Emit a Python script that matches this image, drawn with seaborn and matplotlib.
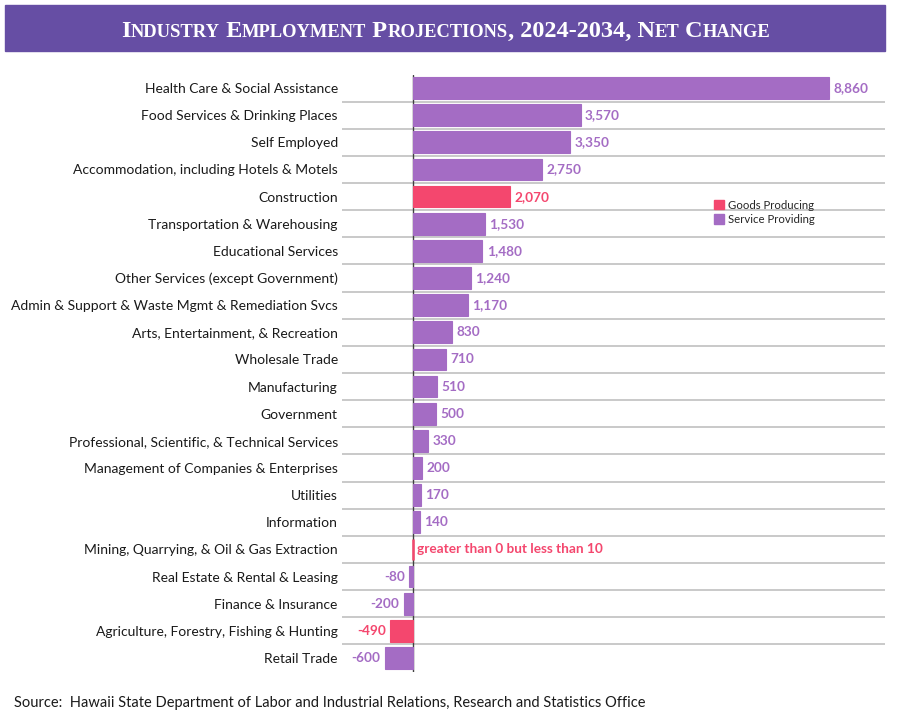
import pandas as pd
import matplotlib.pyplot as plt
import matplotlib.patches as mpatches
import seaborn as sns

industries = ['Health Care & Social Assistance', 'Food Services & Drinking Places', 'Self Employed',
              'Accommodation, including Hotels & Motels', 'Construction', 'Transportation & Warehousing',
              'Educational Services', 'Other Services (except Government)',
              'Admin & Support & Waste Mgmt & Remediation Svcs', 'Arts, Entertainment, & Recreation',
              'Wholesale Trade', 'Manufacturing', 'Government',
              'Professional, Scientific, & Technical Services', 'Management of Companies & Enterprises',
              'Utilities', 'Information', 'Mining, Quarrying, & Oil & Gas Extraction',
              'Real Estate & Rental & Leasing', 'Finance & Insurance',
              'Agriculture, Forestry, Fishing & Hunting', 'Retail Trade']
net_change = [8860, 3570, 3350, 2750, 2070, 1530, 1480, 1240, 1170, 830, 710, 510, 500,
              330, 200, 170, 140, 5, -80, -200, -490, -600]
sector = ['Service Providing', 'Service Providing', 'Service Providing', 'Service Providing',
          'Goods Producing', 'Service Providing', 'Service Providing', 'Service Providing',
          'Service Providing', 'Service Providing', 'Service Providing', 'Service Providing',
          'Service Providing', 'Service Providing', 'Service Providing', 'Service Providing',
          'Service Providing', 'Goods Producing', 'Service Providing', 'Service Providing',
          'Goods Producing', 'Service Providing']
value_labels = ['8,860', '3,570', '3,350', '2,750', '2,070', '1,530', '1,480', '1,240', '1,170',
                '830', '710', '510', '500', '330', '200', '170', '140',
                'greater than 0 but less than 10', '-80', '-200', '-490', '-600']

colors = {'Goods Producing': '#F4476E', 'Service Providing': '#A46CC4'}
df = pd.DataFrame({'Industry': industries, 'Change': net_change, 'Sector': sector})

sns.set_style('white')
plt.rcParams['font.family'] = ['Lato', 'DejaVu Sans']

fig = plt.figure(figsize=(9.01, 7.21), dpi=100)
ax = fig.add_axes([342 / 901, 1 - 671.5 / 721, (885 - 342) / 901, (671.5 - 74.5) / 721])

sns.barplot(data=df, x='Change', y='Industry', hue='Sector', palette=colors, orient='h',
            dodge=False, width=0.8, ax=ax, legend=False, saturation=1, linewidth=0.8, zorder=3)
for bar in ax.patches:
    bar.set_edgecolor(bar.get_facecolor())
    # the tiny mining bar is only a thin stroke in the original
    if 0 < bar.get_width() < 10:
        bar.set_linewidth(1.8)

ax.set_xlim(-1512, 10053)
ax.set_ylim(len(industries) - 0.5, -0.5)
for i in range(len(industries) - 1):
    ax.axhline(i + 0.5, color='#C0C0C0', lw=1.2, zorder=1)
ax.axvline(0, color='#404040', lw=1, zorder=2)

ax.set_xticks([])
ax.set_xlabel('')
ax.set_ylabel('')
ax.tick_params(axis='y', length=0, pad=3, labelsize=10, labelcolor='#1a1a1a')
for s in ax.spines.values():
    s.set_visible(False)

for i, (v, lab, sec) in enumerate(zip(net_change, value_labels, sector)):
    ax.annotate(lab, (v, i), xytext=(3 if v >= 0 else -3, 0), textcoords='offset points',
                ha='left' if v >= 0 else 'right', va='center', fontsize=9.8, fontweight='bold',
                color=colors[sec])

handles = [mpatches.Patch(color=colors['Goods Producing'], label='Goods Producing'),
           mpatches.Patch(color=colors['Service Providing'], label='Service Providing')]
fig.legend(handles=handles, loc='upper left', bbox_to_anchor=(709 / 901, 1 - 195 / 721),
           frameon=False, fontsize=8.2, handlelength=0.9, handleheight=0.9, handletextpad=0.4,
           labelspacing=0.3, borderaxespad=0)

# title banner
fig.patches.append(mpatches.Rectangle((5 / 901, 1 - 51 / 721), 880 / 901, 46 / 721,
                                      transform=fig.transFigure, color='#664EA4', zorder=0))
title = 'Industry Employment Projections, 2024-2034, Net Change'
runs = []
for ch in title:
    big = not ch.islower()
    if runs and runs[-1][1] == big:
        runs[-1][0] += ch.upper()
    else:
        runs.append([ch.upper(), big])
renderer = fig.canvas.get_renderer()
texts = []
for txt, big in runs:
    t = fig.text(0, 1 - 37 / 721, txt, color='white', fontweight='bold', va='baseline',
                 fontsize=17.5 if big else 13.3, family='Liberation Serif')
    texts.append(t)
widths = [t.get_window_extent(renderer).width for t in texts]
x = 446 - sum(widths) / 2
for t, w in zip(texts, widths):
    t.set_x(x / 901)
    x += w

fig.text(14 / 901, 1 - 703 / 721,
         'Source:  Hawaii State Department of Labor and Industrial Relations, Research and Statistics Office',
         fontsize=10.5, va='center', color='#1a1a1a')

fig.savefig('out.png', dpi=100)
